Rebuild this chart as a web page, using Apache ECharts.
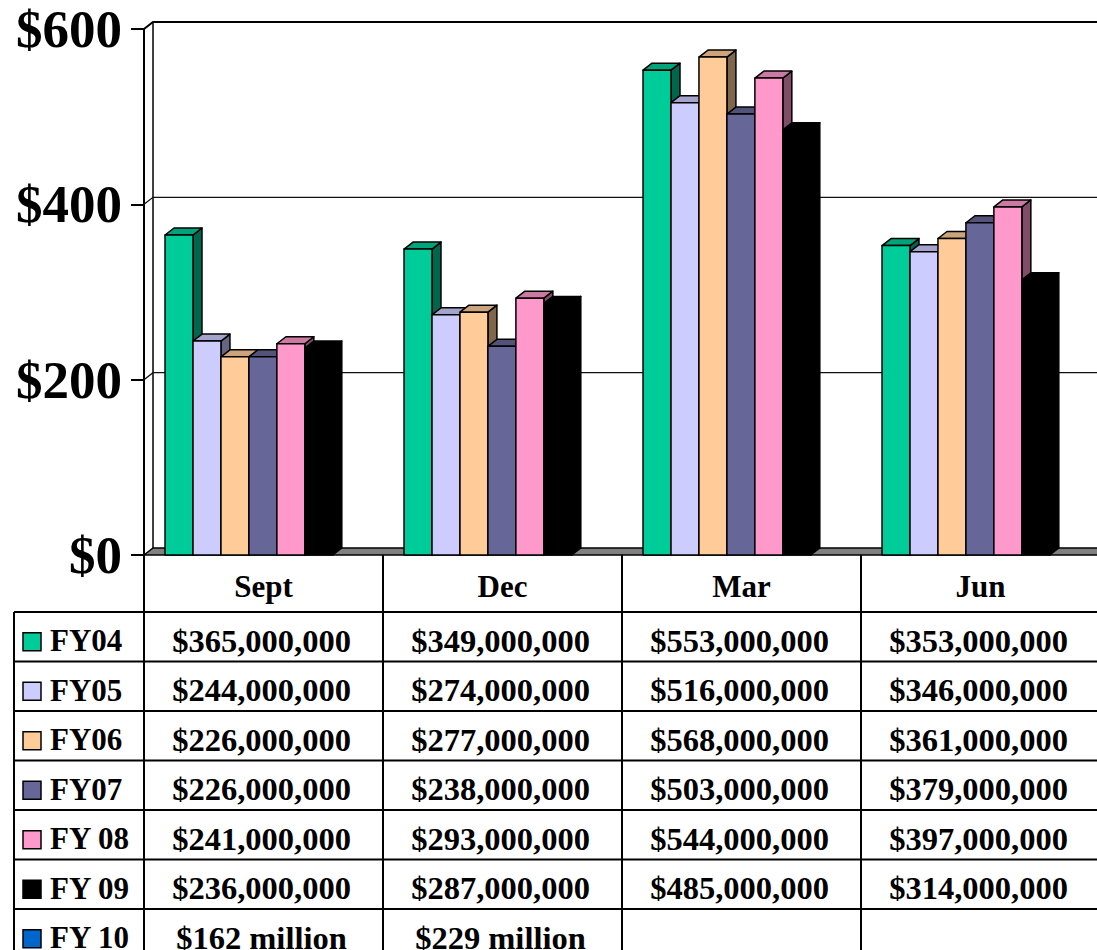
<!DOCTYPE html>
<html>
<head>
<meta charset="utf-8">
<style>
  html, body { margin: 0; padding: 0; background: #fff; }
  #chart { width: 1097px; height: 950px; }
</style>
<script src="https://cdn.jsdelivr.net/npm/echarts@6/dist/echarts.min.js"></script>
</head>
<body>
<div id="chart"></div>
<script>
// values in millions of dollars
const months = ['Sept', 'Dec', 'Mar', 'Jun'];
const seriesNames = ['FY04', 'FY05', 'FY06', 'FY07', 'FY 08', 'FY 09', 'FY 10'];
const fy04 = [365, 349, 553, 353];
const fy05 = [244, 274, 516, 346];
const fy06 = [226, 277, 568, 361];
const fy07 = [226, 238, 503, 379];
const fy08 = [241, 293, 544, 397];
const fy09 = [236, 287, 485, 314];
const fy10 = [162, 229, null, null]; // only in the table, no bars
const yTicks = [0, 200, 400, 600];

const barSeries = [fy04, fy05, fy06, fy07, fy08, fy09];
const colors = ['#00CC99', '#CCCCFF', '#FFCC99', '#666699', '#FF99CC', '#000000', '#0066CC'];

const FONT = '"Liberation Serif", "Times New Roman", serif';
const DX = 9, DY = 7; // depth of the 3d look

function shade(hex, k) {
  const n = parseInt(hex.slice(1), 16);
  const r = Math.round(((n >> 16) & 255) * k);
  const g = Math.round(((n >> 8) & 255) * k);
  const b = Math.round((n & 255) * k);
  return `rgb(${r},${g},${b})`;
}

function renderBar(params, api) {
  const cat = api.value(0);
  const [cx, top] = api.coord([cat, api.value(1)]);
  const base = api.coord([cat, 0])[1];
  const band = api.size([1, 0])[0];
  const w = band * 0.117;
  const x = cx - band / 2 + band * 0.088 + params.seriesIndex * w;
  const c = colors[params.seriesIndex];
  const line = { stroke: '#000', lineWidth: 1.5, lineJoin: 'round' };
  return {
    type: 'group',
    children: [
      {
        type: 'polygon',
        shape: { points: [[x + w, top], [x + w + DX, top - DY], [x + w + DX, base - DY], [x + w, base]] },
        style: { fill: shade(c, 0.5), ...line }
      },
      {
        type: 'polygon',
        shape: { points: [[x, top], [x + w, top], [x + w + DX, top - DY], [x + DX, top - DY]] },
        style: { fill: shade(c, 0.8), ...line }
      },
      {
        type: 'rect',
        shape: { x: x, y: top, width: w, height: base - top },
        style: { fill: c, ...line }
      }
    ]
  };
}

const chart = echarts.init(document.getElementById('chart'), null, { renderer: 'svg' });

chart.setOption({
  animation: false,
  backgroundColor: '#fff',
  grid: {
    left: 144,
    top: 29,
    width: 956,
    height: 526,
    outerBoundsMode: 'none'
  },
  xAxis: {
    type: 'category',
    data: months,
    axisLine: { show: false },
    axisTick: { show: false },
    axisLabel: {
      margin: 31,
      verticalAlign: 'middle',
      color: '#000',
      fontFamily: FONT,
      fontWeight: 'bold',
      fontSize: 31
    }
  },
  yAxis: {
    type: 'value',
    min: yTicks[0],
    max: yTicks[yTicks.length - 1],
    interval: 200,
    axisLine: { show: true, lineStyle: { color: '#000', width: 2 } },
    axisTick: { show: true, length: 13, lineStyle: { color: '#000', width: 2 } },
    splitLine: { show: false },
    axisLabel: {
      margin: 22,
      color: '#000',
      fontFamily: FONT,
      fontWeight: 'bold',
      fontSize: 53,
      formatter: v => '$' + v
    }
  },
  series: barSeries.map((vals, i) => ({
    name: seriesNames[i],
    type: 'custom',
    z: 5,
    renderItem: renderBar,
    data: vals.map((v, j) => [j, v])
  }))
});

// back wall, floor and data table, placed from the axis scales
const px = i => chart.convertToPixel({ xAxisIndex: 0 }, i);
const py = v => chart.convertToPixel({ yAxisIndex: 0 }, v);

const band = px(1) - px(0);
const colEdge = i => px(0) - band / 2 + i * band;
const xLeft = colEdge(0);
const xRight = colEdge(months.length);
const yBase = py(0);

const g = [];
const lineStyle = (w, c) => ({ stroke: c || '#000', lineWidth: w });

// floor
g.push({
  type: 'polygon', z: 1,
  shape: { points: [[xLeft, yBase], [xLeft + DX, yBase - DY], [xRight + DX, yBase - DY], [xRight, yBase]] },
  style: { fill: '#808080', stroke: '#000', lineWidth: 1.5 }
});
// left wall back edge
g.push({
  type: 'line', z: 1,
  shape: { x1: xLeft + DX, y1: py(600) - DY, x2: xLeft + DX, y2: yBase - DY },
  style: lineStyle(1.5)
});
// gridlines on the back wall
yTicks.slice(1).forEach(v => {
  const y = py(v);
  const top = v === yTicks[yTicks.length - 1];
  g.push({
    type: 'polyline', z: 1,
    shape: { points: [[xLeft, y], [xLeft + DX, y - DY], [xRight + DX, y - DY]] },
    style: { fill: null, ...lineStyle(top ? 2 : 1.3, top ? '#000' : '#111') }
  });
});

// data table
const headerBottom = yBase + 57;
const rowH = 49.5;
const tableLeft = 14;
const rows = [fy04, fy05, fy06, fy07, fy08, fy09, fy10];
const nameFont = `bold 31px ${FONT}`;
const valueFont = `bold 32.5px ${FONT}`;

function money(v) {
  return '$' + (v * 1e6).toLocaleString('en-US');
}

// column verticals
for (let i = 0; i <= months.length; i++) {
  g.push({ type: 'line', z: 1, shape: { x1: colEdge(i), y1: yBase, x2: colEdge(i), y2: 960 }, style: lineStyle(2) });
}
g.push({ type: 'line', z: 1, shape: { x1: tableLeft, y1: headerBottom, x2: tableLeft, y2: 960 }, style: lineStyle(2) });

rows.forEach((vals, r) => {
  const yTop = headerBottom + r * rowH;
  const yMid = yTop + rowH / 2 + 4;
  g.push({ type: 'line', z: 1, shape: { x1: tableLeft, y1: yTop, x2: xRight, y2: yTop }, style: lineStyle(2) });
  g.push({
    type: 'rect', z: 1,
    shape: { x: 23, y: yMid - 8, width: 18, height: 18 },
    style: { fill: colors[r], stroke: '#000', lineWidth: 1.5 }
  });
  g.push({
    type: 'text', z: 1,
    style: { text: seriesNames[r], x: 50, y: yMid, textAlign: 'left', textVerticalAlign: 'middle', font: nameFont, fill: '#000' }
  });
  vals.forEach((v, j) => {
    if (v === null) return;
    const label = r === 6 ? `$${v} million` : money(v);
    g.push({
      type: 'text', z: 1,
      style: { text: label, x: px(j) - 2, y: yMid, textAlign: 'center', textVerticalAlign: 'middle', font: valueFont, fill: '#000' }
    });
  });
});

chart.setOption({ graphic: { elements: g } });
</script>
</body>
</html>
